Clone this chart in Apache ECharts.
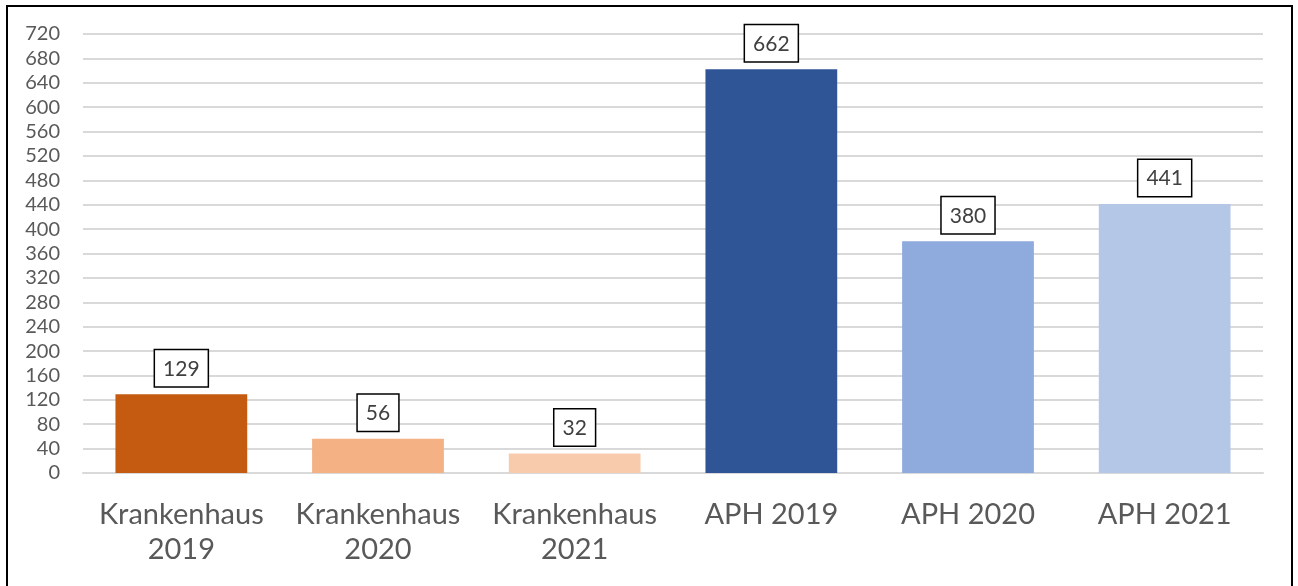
<!DOCTYPE html>
<html><head><meta charset="utf-8">
<script src="https://cdn.jsdelivr.net/npm/echarts@6/dist/echarts.min.js"></script>
<style>
html,body{margin:0;padding:0;background:#fff;}
#frame{position:absolute;left:6px;top:5px;width:1287px;height:600px;border:2px solid #000;box-sizing:border-box;}
#c{position:absolute;left:0;top:0;width:1298px;height:586px;}
</style></head><body>
<div id="frame"></div>
<div id="c"></div>
<script>
const categories = ["Krankenhaus\n2019","Krankenhaus\n2020","Krankenhaus\n2021","APH 2019","APH 2020","APH 2021"];
const values = [129, 56, 32, 662, 380, 441];
const barColors = ["#C55A11","#F4B183","#F8CBAD","#2F5597","#8FAADC","#B4C7E7"];
const yMin = 0, yMax = 720, yStep = 40;

const FONT = 'Lato, "Open Sans", sans-serif';
const chart = echarts.init(document.getElementById('c'));
chart.setOption({
  animation:false,
  grid:{left:83,right:35,top:34,bottom:113,containLabel:false},
  xAxis:{type:'category',data:categories,
    axisLine:{show:true,lineStyle:{color:'#d9d9d9',width:2}},
    axisTick:{show:false},
    axisLabel:{color:'#595959',fontFamily:FONT,fontSize:29,lineHeight:35,margin:24,interval:0}},
  yAxis:{type:'value',min:yMin,max:yMax,interval:yStep,
    axisLine:{show:false},axisTick:{show:false},
    splitLine:{lineStyle:{color:'#d9d9d9',width:2}},
    axisLabel:{color:'#595959',fontFamily:FONT,fontSize:20,margin:23}},
  series:[{type:'bar',barWidth:'67%',
    data:values.map((v,i)=>({value:v,itemStyle:{color:barColors[i]}})),
    label:{show:true,position:'top',distance:8,color:'#404040',fontFamily:FONT,fontSize:21,
      backgroundColor:'#fff',borderColor:'#000',borderWidth:1.5,padding:[8,8,7,8]}
  }]
});
</script>
</body></html>
